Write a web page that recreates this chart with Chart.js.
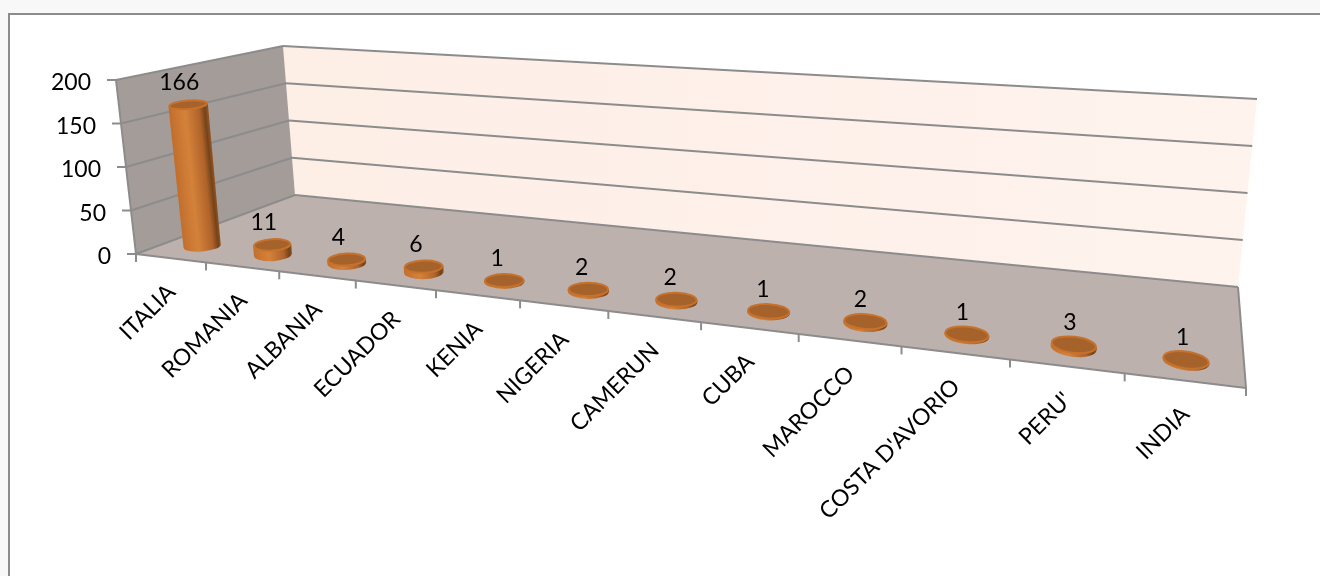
<!DOCTYPE html>
<html>
<head>
<meta charset="utf-8">
<script src="https://cdn.jsdelivr.net/npm/chart.js@4"></script>
<style>
    html, body { margin: 0; padding: 0; background: #fff; }
    #wrap { width: 1320px; height: 576px; }
</style>
</head>
<body>
<div id="wrap"><canvas id="studentsChart" width="1320" height="576"></canvas></div>
<script>
const categories = ['ITALIA', 'ROMANIA', 'ALBANIA', 'ECUADOR', 'KENIA', 'NIGERIA', 'CAMERUN', 'CUBA', 'MAROCCO', "COSTA D'AVORIO", "PERU'", 'INDIA'];
const counts = [166, 11, 4, 6, 1, 2, 2, 1, 2, 1, 3, 1];
const valueTicks = [0, 50, 100, 150, 200];

// Corners of the 3D box on the canvas: floor and the plane at the axis maximum
const floorBox = { fl: [136, 254], fr: [1246, 388], br: [1238, 287], bl: [295, 195] };
const topBox = { fl: [116, 80], fr: [1277, 168], br: [1257, 99], bl: [283, 46] };
const perspective = 1.35;     // spacing grows left to right along the front edge
const barPerspective = 1.32;  // same, a little weaker further into the box
const barDepth = 0.2;         // where the cylinders stand between front and back

const lerp = (a, b, t) => a + (b - a) * t;
const mix = (p, q, t) => [lerp(p[0], q[0], t), lerp(p[1], q[1], t)];

function warp(u, k = perspective) {
    return u / (u + k * (1 - u));
}

function corner(box, u, d) {
    return mix(mix(box.fl, box.fr, u), mix(box.bl, box.br, u), d);
}

// u along the categories (0-1, already warped), h up the value axis, d into the depth
function project(u, h, d) {
    return mix(corner(floorBox, u, d), corner(topBox, u, d), h);
}

function polygon(ctx, pts) {
    ctx.beginPath();
    pts.forEach((p, i) => i ? ctx.lineTo(p[0], p[1]) : ctx.moveTo(p[0], p[1]));
    ctx.closePath();
}

function line(ctx, a, b) {
    ctx.beginPath();
    ctx.moveTo(a[0], a[1]);
    ctx.lineTo(b[0], b[1]);
    ctx.stroke();
}

const box3d = {
    id: 'box3d',
    beforeDraw(chart) {
        const ctx = chart.ctx;
        const { x, y } = chart.scales;
        const heightOf = v => (y.bottom - y.getPixelForValue(v)) / (y.bottom - y.top);
        const uOf = v => warp((x.getPixelForValue(v) - x.left) / x.width);

        ctx.save();
        // sheet behind the chart frame
        ctx.fillStyle = '#f8f8f8';
        ctx.fillRect(0, 0, 1320, 576);
        ctx.fillStyle = '#ffffff';
        ctx.fillRect(9, 14, 1311, 562);
        ctx.strokeStyle = '#8c8c8c';
        ctx.lineWidth = 2;
        ctx.beginPath();
        ctx.moveTo(9, 576);
        ctx.lineTo(9, 14);
        ctx.lineTo(1320, 14);
        ctx.stroke();

        // back wall
        const back = ctx.createLinearGradient(283, 0, 1257, 0);
        back.addColorStop(0, '#fdeee6');
        back.addColorStop(1, '#fff3ee');
        ctx.fillStyle = back;
        polygon(ctx, [project(0, 0, 1), project(0, 1, 1), project(1, 1, 1), project(1, 0, 1)]);
        ctx.fill();

        // left wall
        ctx.fillStyle = '#a49c98';
        polygon(ctx, [project(0, 0, 0), project(0, 1, 0), project(0, 1, 1), project(0, 0, 1)]);
        ctx.fill();

        // floor
        ctx.fillStyle = '#bdb1ad';
        polygon(ctx, [project(0, 0, 0), project(1, 0, 0), project(1, 0, 1), project(0, 0, 1)]);
        ctx.fill();

        // gridlines wrap from the left wall over the back wall
        ctx.strokeStyle = '#8c8c8c';
        ctx.lineWidth = 2;
        y.ticks.forEach(t => {
            const h = heightOf(t.value);
            line(ctx, project(0, h, 0), project(0, h, 1));
            line(ctx, project(0, h, 1), project(1, h, 1));
        });

        // box edges
        line(ctx, project(0, 0, 0), project(0, 1, 0));
        line(ctx, project(1, 0, 0), project(1, 0, 1));
        line(ctx, project(0, 0, 0), project(1, 0, 0));

        // value axis ticks and labels follow the slanted front edge
        ctx.fillStyle = '#000';
        ctx.font = '23px Lato';
        ctx.textAlign = 'right';
        ctx.textBaseline = 'middle';
        y.ticks.forEach(t => {
            const p = project(0, heightOf(t.value), 0);
            line(ctx, [p[0] - 9, p[1]], p);
            ctx.fillText(t.label, p[0] - 25, p[1] + 3);
        });

        // category ticks
        for (let i = 0; i <= categories.length; i++) {
            const p = project(uOf(i - 0.5), 0, 0);
            line(ctx, p, [p[0], p[1] + 8]);
        }

        // category labels
        ctx.font = '23px Lato';
        categories.forEach((name, i) => {
            const p = project(uOf(i), 0, 0);
            ctx.save();
            ctx.translate(p[0] + 1, p[1] + 30);
            ctx.rotate(-Math.PI / 4);
            ctx.fillText(name, 0, 0);
            ctx.restore();
        });
        ctx.restore();
    },
    afterDatasetsDraw(chart) {
        const ctx = chart.ctx;
        const { x, y } = chart.scales;
        const bars = chart.getDatasetMeta(0).data;

        ctx.save();
        bars.forEach((bar, i) => {
            const u = warp((bar.x - x.left) / x.width, barPerspective);
            const h = (y.bottom - bar.y) / (y.bottom - y.top);
            const base = project(u, 0, barDepth);
            const top = project(u, h, barDepth);
            const rx = lerp(18.5, 24, u);
            const ry = lerp(6.5, 9.5, u) * (1 - 0.25 * h);
            const rot = lerp(-5, 9, u) * Math.PI / 180;
            const topRx = rx * (1 + 0.07 * h);
            const c = Math.cos(rot), s = Math.sin(rot);

            // shade the side across the cylinder's own axis, which leans with the walls
            const ax = top[0] - base[0], ay = top[1] - base[1];
            const len = Math.hypot(ax, ay) || 1;
            const nx = -ay / len, ny = ax / len;
            const mx = (top[0] + base[0]) / 2, my = (top[1] + base[1]) / 2;
            const side = ctx.createLinearGradient(mx - nx * rx, my - ny * rx, mx + nx * rx, my + ny * rx);
            side.addColorStop(0, '#c26f2e');
            side.addColorStop(0.4, '#d4823a');
            side.addColorStop(0.78, '#b0632a');
            side.addColorStop(0.93, '#74431a');
            side.addColorStop(1, '#8f5220');
            ctx.fillStyle = side;
            ctx.beginPath();
            ctx.ellipse(base[0], base[1], rx, ry, rot, 0, Math.PI);
            ctx.lineTo(top[0] - topRx * c, top[1] - topRx * s);
            ctx.lineTo(top[0] + topRx * c, top[1] + topRx * s);
            ctx.closePath();
            ctx.fill();

            // cap
            ctx.fillStyle = '#a5622a';
            ctx.strokeStyle = '#c6722d';
            ctx.lineWidth = 2;
            ctx.beginPath();
            ctx.ellipse(top[0], top[1], topRx - 1, ry - 1, rot, 0, Math.PI * 2);
            ctx.fill();
            ctx.stroke();

            // value label
            ctx.fillStyle = '#000';
            ctx.font = '23px Lato';
            ctx.textAlign = 'center';
            ctx.textBaseline = 'middle';
            ctx.fillText(String(counts[i]), top[0] + lerp(-9, -3, u), top[1] - 22);
        });
        ctx.restore();
    }
};

const studentsChart = new Chart(document.getElementById('studentsChart'), {
    type: 'bar',
    data: {
        labels: categories,
        datasets: [{
            label: 'Alunni',
            data: counts,
            // the cylinders are painted by the box3d plugin from these bars
            backgroundColor: 'transparent',
            borderWidth: 0
        }]
    },
    options: {
        responsive: false,
        animation: false,
        events: [],
        layout: { padding: { top: 80, left: 136, right: 74, bottom: 188 } },
        plugins: {
            legend: { display: false },
            tooltip: { enabled: false }
        },
        scales: {
            x: {
                grid: { display: false },
                border: { display: false },
                ticks: { display: false }
            },
            y: {
                min: valueTicks[0],
                max: valueTicks[valueTicks.length - 1],
                grid: { display: false },
                border: { display: false },
                ticks: { display: false, stepSize: valueTicks[1] - valueTicks[0] }
            }
        }
    },
    plugins: [box3d]
});
</script>
</body>
</html>
